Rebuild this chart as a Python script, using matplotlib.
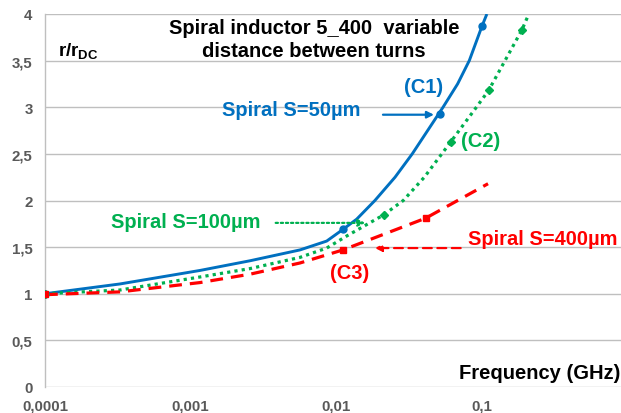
import matplotlib
matplotlib.use("Agg")
import matplotlib.pyplot as plt
from matplotlib.ticker import FixedLocator, FixedFormatter, NullLocator

plt.rcParams['font.family'] = ['Liberation Sans', 'DejaVu Sans']
plt.rcParams['mathtext.fontset'] = 'custom'
plt.rcParams['mathtext.rm'] = 'Liberation Sans'
plt.rcParams['mathtext.bf'] = 'Liberation Sans:bold'

# curves (frequency in GHz, r/rDC)
f_c1 = [1e-4, 3.27e-4, 1.16e-3, 2.56e-3, 5.63e-3, 8.59e-3, 0.0111, 0.0138, 0.0184, 0.0253, 0.0332, 0.054, 0.068, 0.0818, 0.1, 0.108]
r_c1 = [1.0, 1.105, 1.25, 1.354, 1.47, 1.565, 1.69, 1.80, 2.0, 2.25, 2.5, 3.0, 3.25, 3.5, 3.87, 4.0]
f_c2 = [1e-4, 3.27e-4, 1.16e-3, 2.56e-3, 5.63e-3, 8.59e-3, 0.0118, 0.0211, 0.0288, 0.0402, 0.0611, 0.0895, 0.111, 0.188, 0.207]
r_c2 = [1.0, 1.04, 1.18, 1.27, 1.39, 1.49, 1.62, 1.845, 2.0, 2.25, 2.63, 2.98, 3.18, 3.83, 3.98]
f_c3 = [1e-4, 3.27e-4, 1.16e-3, 2.56e-3, 5.63e-3, 0.0111, 0.041, 0.11]
r_c3 = [0.99, 1.02, 1.12, 1.21, 1.33, 1.47, 1.81, 2.18]

# measured points (markers)
f_m1 = [1e-4, 0.0111, 0.0511, 0.1]
r_m1 = [1.0, 1.69, 2.93, 3.87]
f_m2 = [1e-4, 0.0211, 0.0611, 0.111, 0.188]
r_m2 = [1.0, 1.845, 2.63, 3.18, 3.83]
f_m3 = [1e-4, 0.0111, 0.041]
r_m3 = [1.0, 1.47, 1.81]

x_ticks = [1e-4, 1e-3, 1e-2, 1e-1]
x_labels = ['0,0001', '0,001', '0,01', '0,1']
y_ticks = [0, 0.5, 1, 1.5, 2, 2.5, 3, 3.5, 4]
y_labels = ['0', '0,5', '1', '1,5', '2', '2,5', '3', '3,5', '4']

blue = '#0070C0'
green = '#00B050'
red = '#FF0000'
gray = '#595959'

fig = plt.figure(figsize=(6.21, 4.14), dpi=100)
ax = fig.add_axes([45/621, 26/414, 576/621, 373/414])

ax.plot(f_c1, r_c1, color=blue, lw=2.1, solid_capstyle='butt', solid_joinstyle='round')
ax.plot(f_c2, r_c2, color=green, lw=2.3, linestyle=(0, (1, 1.3)))
ax.plot(f_c3, r_c3, color=red, lw=2.3, linestyle=(0, (4, 2.5)))
ax.plot(f_m1, r_m1, 'o', color=blue, ms=5, zorder=4)
ax.plot(f_m2, r_m2, 'D', color=green, ms=4.5, zorder=4)
ax.plot(f_m3, r_m3, 's', color=red, ms=5, zorder=4)

ax.set_xscale('log')
ax.set_xlim(1e-4, 0.9)
ax.set_ylim(0, 4)
ax.xaxis.set_major_locator(FixedLocator(x_ticks))
ax.xaxis.set_major_formatter(FixedFormatter(x_labels))
ax.xaxis.set_minor_locator(NullLocator())
ax.set_yticks(y_ticks)
ax.set_yticklabels(y_labels)
ax.tick_params(axis='both', length=0, labelsize=10.8, labelcolor=gray)
ax.tick_params(axis='x', pad=8)
ax.tick_params(axis='y', pad=9)
for lab in ax.get_xticklabels() + ax.get_yticklabels():
    lab.set_fontweight('bold')

ax.grid(axis='y', color='#BFBFBF', lw=1.0)
ax.set_axisbelow(True)
for s in ['top', 'right', 'bottom']:
    ax.spines[s].set_visible(False)
ax.spines['left'].set_color('#BFBFBF')
ax.spines['left'].set_linewidth(1.0)

# arrows
ax.annotate('', xy=(0.0489, 2.92), xytext=(0.020, 2.92),
            arrowprops=dict(arrowstyle='-|>', color=blue, lw=1.6, mutation_scale=10))
ax.annotate('', xy=(0.0165, 1.76), xytext=(3.67e-3, 1.76),
            arrowprops=dict(arrowstyle='-|>', color=green, lw=1.6, mutation_scale=10,
                            linestyle=(0, (1, 1.3))))
ax.annotate('', xy=(0.0176, 1.49), xytext=(0.0746, 1.49),
            arrowprops=dict(arrowstyle='-|>', color=red, lw=1.6, mutation_scale=10,
                            linestyle=(0, (4, 2.5))))

lab_kw = dict(fontsize=14.5, fontweight='bold')
ax.text(1.64e-3, 2.98, 'Spiral S=50µm', color=blue, ha='left', va='center', **lab_kw)
ax.text(0.0394, 3.22, '(C1)', color=blue, ha='center', va='center', **lab_kw)
ax.text(0.0977, 2.64, '(C2)', color=green, ha='center', va='center', **lab_kw)
ax.text(2.84e-4, 1.77, 'Spiral S=100µm', color=green, ha='left', va='center', **lab_kw)
ax.text(0.080, 1.59, 'Spiral S=400µm', color=red, ha='left', va='center', **lab_kw)
ax.text(0.0124, 1.23, '(C3)', color=red, ha='center', va='center', **lab_kw)

fig.text(314/621, 1 - 40/414, 'Spiral inductor 5_400  variable\ndistance between turns',
         ha='center', va='center', color='black', fontsize=14.5, fontweight='bold',
         linespacing=1.28)
fig.text(58/621, 1 - 52/414, r'r/r$_\mathbf{DC}$', ha='left', va='center',
         fontsize=13.5, fontweight='bold')
fig.text(620/621, 1 - 374/414, 'Frequency (GHz)', ha='right', va='center',
         fontsize=14.5, fontweight='bold')

fig.savefig('out.png', dpi=100)
